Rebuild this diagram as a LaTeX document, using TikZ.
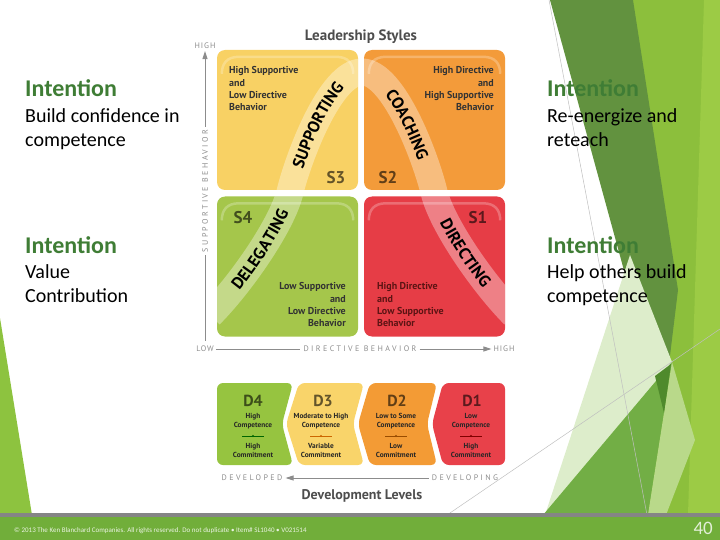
\documentclass[tikz,border=0pt]{standalone}
\usepackage{fontspec}
\setmainfont{Carlito}
\newfontfamily\dgfont{PT Sans}
\newfontfamily\axfont[LetterSpace=30]{PT Sans}
\newfontfamily\axendfont[LetterSpace=12]{PT Sans}
\usetikzlibrary{arrows.meta,decorations.text}

\definecolor{qyellow}{HTML}{F8D164}
\definecolor{qorange}{HTML}{F39B3A}
\definecolor{qgreen}{HTML}{A5C64B}
\definecolor{qred}{HTML}{E63D46}
\definecolor{lgreen}{HTML}{96C440}
\definecolor{lyellow}{HTML}{F9D46A}
\definecolor{lorange}{HTML}{F39B35}
\definecolor{lred}{HTML}{E8414A}
\definecolor{intgreen}{HTML}{3F7D35}
\definecolor{axgray}{HTML}{8C8C8C}
\definecolor{labgray}{HTML}{4D4D4D}
\definecolor{redtxt}{HTML}{5C1414}
\definecolor{foot}{HTML}{71AE3A}
\definecolor{footline}{HTML}{858585}
\definecolor{facetdark}{HTML}{62923F}
\definecolor{facetbright}{HTML}{8CBF3C}
\definecolor{facetlight}{HTML}{9CCB45}
\definecolor{facetpale}{HTML}{DDEDCB}
\definecolor{facetmid}{HTML}{72AE45}
\definecolor{facetsoft}{HTML}{B9D98A}
\definecolor{facetdeep}{HTML}{4F8A2C}
\definecolor{wedge}{HTML}{8DC33F}

\newcommand\bandfont{\dgfont\bfseries\fontsize{16.5}{16.5}\selectfont}

\begin{document}
\begin{tikzpicture}[x=1pt,y=-1pt,
  inthead/.style={font=\fontsize{24}{24}\selectfont\bfseries, text=intgreen, anchor=base west, inner sep=0pt},
  intbody/.style={font=\fontsize{20}{24}\selectfont, anchor=base west, inner sep=0pt},
  quad/.style={rectangle, rounded corners=8pt, minimum width=141pt, minimum height=140pt, inner sep=0pt},
  gloss/.style={draw=white, opacity=.25, line width=2.5pt},
  qdesc/.style={font=\dgfont\bfseries\fontsize{10}{12.3}\selectfont, inner sep=0pt, text=black!80},
  slab/.style={font=\dgfont\bfseries\fontsize{17}{17}\selectfont, inner sep=0pt, text=black, text opacity=.6},
  axlab/.style={font=\axfont\fontsize{8}{8}\selectfont, text=axgray, inner sep=3pt},
  axend/.style={font=\axendfont\fontsize{8}{8}\selectfont, text=axgray, inner sep=2pt},
  axline/.style={draw=axgray, line width=1pt},
  axarrow/.style={axline, -{Triangle[length=8pt,width=5pt]}},
  band/.style={draw=white, opacity=.35, line width=27pt},
  lvl/.style={rounded corners=6pt},
  dlab/.style={font=\dgfont\bfseries\fontsize{16}{16}\selectfont, inner sep=0pt, text=black, text opacity=.6},
  dtxt/.style={font=\dgfont\bfseries\fontsize{7.3}{9}\selectfont, inner sep=0pt, text=black!85, anchor=base},
  ]
\useasboundingbox (0,0) rectangle (720,540);

% facet background
\fill[wedge] (0,318) -- (32,515) -- (0,515) -- cycle;
\fill[facetbright] (633,0) -- (720,0) -- (720,515) -- (640,515) -- cycle;
\fill[facetlight] (704,0) -- (720,0) -- (720,515) -- (688,515) -- cycle;
\fill[facetdark] (550,0) -- (633,0) -- (678,290) -- (663,413) -- cycle;
\fill[facetpale] (545,515) -- (630,255) -- (672,362) -- cycle;
\fill[facetmid] (543,515) -- (672,362) -- (648,515) -- cycle;
\fill[facetsoft] (672,362) -- (695,440) -- (666,515) -- (648,515) -- cycle;
\fill[facetdeep] (655,376) -- (671,364) -- (664,413) -- cycle;
\draw[black!25, line width=.5pt] (549,0) -- (647,515);
\draw[black!25, line width=.5pt] (447,515) -- (720,329);
\fill[footline] (0,513) rectangle (720,517);
\fill[foot] (0,517) rectangle (720,540);

% side texts
\node[inthead] (intBC) at (25,97) {Intention};
\node[intbody] (bc1) at (25,123) {Build confidence in};
\node[intbody] (bc2) at (25,147) {competence};
\node[inthead] (intVC) at (25,253) {Intention};
\node[intbody] (vc1) at (25,278) {Value};
\node[intbody] (vc2) at (25,302) {Contribution};
\node[inthead] (intRR) at (547,97) {Intention};
\node[intbody] (rr1) at (547,123) {Re-energize and};
\node[intbody] (rr2) at (547,147) {reteach};
\node[inthead] (intHB) at (547,253) {Intention};
\node[intbody] (hb1) at (547,278) {Help others build};
\node[intbody] (hb2) at (547,302) {competence};

% leadership styles
\node[font=\dgfont\bfseries\fontsize{15}{15}\selectfont, text=labgray, inner sep=0pt, anchor=base] (title) at (361,41) {Leadership Styles};
\node[quad, fill=qyellow] (qS3) at (287.5,120) {};
\node[quad, fill=qorange] (qS2) at (434.5,120) {};
\node[quad, fill=qgreen] (qS4) at (287.5,266.5) {};
\node[quad, fill=qred] (qS1) at (434.5,266.5) {};
\foreach \q in {qS3,qS2,qS4,qS1}
  \draw[gloss] ([shift={(5,24)}]\q.north west) .. controls +(0,-10) and +(-12,0) .. ([shift={(22,7)}]\q.north west)
    -- ([shift={(-22,7)}]\q.north east) .. controls +(12,0) and +(0,-10) .. ([shift={(-5,24)}]\q.north east);
\begin{scope}
\clip[rounded corners=8pt] (qS3.south west) rectangle (qS3.north east) (qS2.south west) rectangle (qS2.north east)
  (qS4.south west) rectangle (qS4.north east) (qS1.south west) rectangle (qS1.north east);
\draw[band] (210,315) .. controls (240,285) and (282,225) .. (290,192) .. controls (298,159) and (330,72) .. (362,72)
  .. controls (394,72) and (426,159) .. (434,192) .. controls (442,225) and (484,285) .. (514,315);
\end{scope}
\path[decorate, decoration={text along path, text={|\bandfont|DELEGATING}, text align={center, left indent=18pt}, raise=-6pt}]
  (210,315) .. controls (240,285) and (282,225) .. (290,192);
\path[decorate, decoration={text along path, text={|\bandfont|SUPPORTING}, text align=center, raise=-6pt}]
  (290,192) .. controls (298,159) and (330,72) .. (362,72);
\path[decorate, decoration={text along path, text={|\bandfont|COACHING}, text align=center, raise=-6pt}]
  (362,72) .. controls (394,72) and (426,159) .. (434,192);
\path[decorate, decoration={text along path, text={|\bandfont|DIRECTING}, text align={center, right indent=10pt}, raise=-6pt}]
  (434,192) .. controls (442,225) and (484,285) .. (514,315);

\node[qdesc, anchor=north west, align=left] (d3txt) at (229,66.5) {High Supportive\\and\\Low Directive\\Behavior};
\node[qdesc, anchor=north east, align=right] (d2txt) at (494,66.5) {High Directive\\and\\High Supportive\\Behavior};
\node[qdesc, anchor=north east, align=right] (d4txt) at (346,282.5) {Low Supportive\\and\\Low Directive\\Behavior};
\node[qdesc, anchor=north west, align=left, text=redtxt] (d1txt) at (377,282.5) {High Directive\\and\\Low Supportive\\Behavior};
\node[slab] (s3) at (336,177.5) {S3};
\node[slab] (s2) at (388,177.5) {S2};
\node[slab] (s4) at (243,217.5) {S4};
\node[slab] (s1) at (478,217.5) {S1};

% axes
\node[axend] (yhigh) at (205,46) {HIGH};
\node[axend] (lo) at (205,349) {LOW};
\node[axend] (xhigh) at (504,349) {HIGH};
\node[axlab, rotate=90] (supp) at (205,191) {SUPPORTIVE BEHAVIOR};
\node[axlab] (dirb) at (360,349) {DIRECTIVE BEHAVIOR};
\draw[axline] ([yshift=3pt]lo.north) -- (supp.west);
\draw[axarrow] (supp.east) -- (yhigh.south);
\draw[axline] (lo.east) -- (dirb.west);
\draw[axarrow] (dirb.east) -- (xhigh.west);

% development levels
\fill[lvl, lgreen] (217,383) -- (293,383) -- (282,424) -- (293,465) -- (217,465) -- cycle;
\fill[lvl, lyellow] (299,383) -- (364,383) -- (353,424) -- (364,465) -- (299,465) -- (286,424) -- cycle;
\fill[lvl, lorange] (370,383) -- (437,383) -- (427,424) -- (437,465) -- (370,465) -- (358,424) -- cycle;
\fill[lvl, lred] (443,383) -- (505,383) -- (505,465) -- (443,465) -- (432,424) -- cycle;

\node[dlab] (d4) at (253,401) {D4};
\node[dtxt] (d4a) at (253,418.5) {High};
\node[dtxt] (d4b) at (253,427.5) {Competence};
\node[dtxt] (d4c) at (253,448) {High};
\node[dtxt] (d4d) at (253,457.5) {Commitment};
\draw[green!40!black, line width=.6pt] (242,436) -- (264,436);
\fill[green!40!black] (253,436) circle (1.2pt);

\node[dlab] (d3) at (323,401) {D3};
\node[dtxt] (d3a) at (321,418.5) {Moderate to High};
\node[dtxt] (d3b) at (321,427.5) {Competence};
\node[dtxt] (d3c) at (321,448) {Variable};
\node[dtxt] (d3d) at (321,457.5) {Commitment};
\draw[orange!80!black, line width=.6pt] (310,436) -- (332,436);
\fill[orange!80!black] (321,436) circle (1.2pt);

\node[dlab] (d2) at (397,401) {D2};
\node[dtxt] (d2a) at (396,418.5) {Low to Some};
\node[dtxt] (d2b) at (396,427.5) {Competence};
\node[dtxt] (d2c) at (396,448) {Low};
\node[dtxt] (d2d) at (396,457.5) {Commitment};
\draw[orange!60!black, line width=.6pt] (385,436) -- (407,436);
\fill[orange!60!black] (396,436) circle (1.2pt);

\node[dlab] (d1) at (472,401) {D1};
\node[dtxt] (d1a) at (471,418.5) {Low};
\node[dtxt] (d1b) at (471,427.5) {Competence};
\node[dtxt] (d1c) at (471,448) {High};
\node[dtxt] (d1d) at (471,457.5) {Commitment};
\draw[red!50!black, line width=.6pt] (460,436) -- (482,436);
\fill[red!50!black] (471,436) circle (1.2pt);

\node[axlab] (dvd) at (252,478) {DEVELOPED};
\node[axlab] (dvg) at (465,478) {DEVELOPING};
\draw[axarrow] (dvg.west) -- (dvd.east);
\node[font=\dgfont\bfseries\fontsize{14}{14}\selectfont, text=labgray, inner sep=0pt, anchor=base] (devlev) at (362,499) {Development Levels};

% footer
\node[font=\fontsize{7}{7}\selectfont, text=white, text opacity=.85, anchor=base west, inner sep=0pt] (copy) at (14,532) {© 2013 The Ken Blanchard Companies. All rights reserved. Do not duplicate • Item\# SL1040 • V021514};
\node[font=\fontsize{19}{19}\selectfont, text=white, text opacity=.8, anchor=base east, inner sep=0pt] (pg) at (713,534) {40};
\end{tikzpicture}
\end{document}
